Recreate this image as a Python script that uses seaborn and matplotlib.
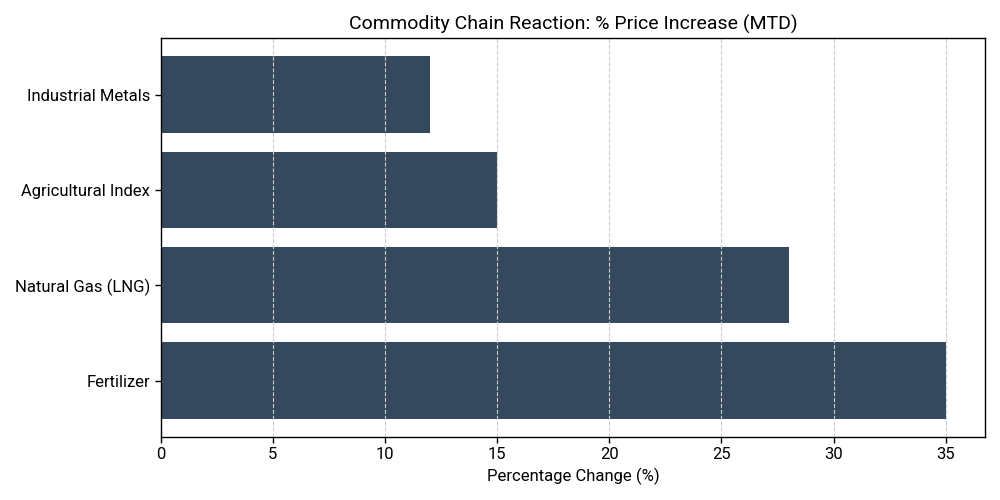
import matplotlib
matplotlib.use("Agg")
import pandas as pd
import matplotlib.pyplot as plt
import seaborn as sns

# datos del grafico
commodities = ["Industrial Metals", "Agricultural Index", "Natural Gas (LNG)", "Fertilizer"]
price_change = [12, 15, 28, 35]

df = pd.DataFrame({"commodity": commodities, "change": price_change})

sns.set_style("white")
plt.rcParams['font.family'] = ['Roboto', 'DejaVu Sans']
plt.rcParams['text.color'] = 'black'
plt.rcParams['axes.labelcolor'] = 'black'
plt.rcParams['xtick.color'] = 'black'
plt.rcParams['ytick.color'] = 'black'

fig, ax = plt.subplots(figsize=(10, 5), dpi=100)
sns.barplot(x='change', y='commodity', data=df, color='#34495e', saturation=1,
            width=0.8, linewidth=0, ax=ax)
for s in ax.spines.values():
    s.set_visible(True)
    s.set_color('black')
    s.set_linewidth(1)
    s.set_zorder(5)
ax.tick_params(axis='both', which='both', length=4, width=1, color='black',
               labelcolor='black', bottom=True, left=True, labelsize=12)
ax.set_axisbelow(False)
ax.xaxis.grid(True, linestyle='--', color='#cccccc', linewidth=0.8)
ax.yaxis.grid(False)
# margen como barh de matplotlib (5% del rango)
n = len(commodities)
pad = 0.05 * (n - 1 + 0.8)
ax.set_ylim(n - 1 + 0.4 + pad, -0.4 - pad)
ax.set_title("Commodity Chain Reaction: % Price Increase (MTD)", fontsize=14, color='black')
ax.set_xlabel('Percentage Change (%)', fontsize=12)
ax.set_ylabel('')
plt.tight_layout()
plt.savefig('out.png')
